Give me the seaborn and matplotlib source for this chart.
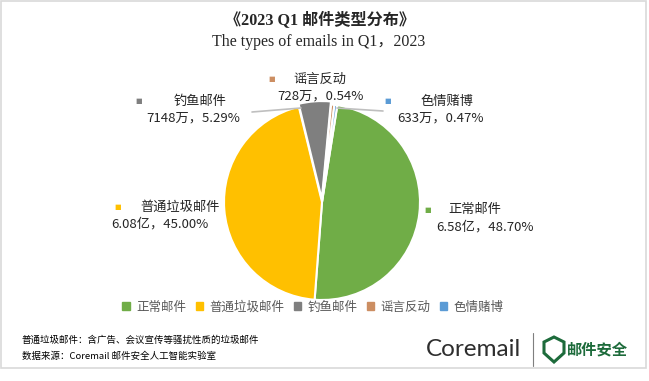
import numpy as np
import matplotlib
matplotlib.use("Agg")
import matplotlib.pyplot as plt
import seaborn as sns
from matplotlib.patches import Patch, Polygon, Rectangle
from matplotlib.lines import Line2D

# chart data
categories = ["正常邮件", "普通垃圾邮件", "钓鱼邮件", "谣言反动", "色情赌博"]
percents = [48.70, 45.00, 5.29, 0.54, 0.47]
counts = ["6.58亿", "6.08亿", "7148万", "728万", "633万"]
colors = ["#70AD47", "#FFC000", "#7F7F7F", "#CC8E62", "#5B9BD5"]

title = "《2023 Q1 邮件类型分布》"
subtitle = "The types of emails in Q1，2023"
notes = ["普通垃圾邮件：含广告、会议宣传等骚扰性质的垃圾邮件",
         "数据来源：Coremail 邮件安全人工智能实验室"]

sns.set_theme(style="white")
plt.rcParams['font.family'] = ['Noto Sans CJK SC', 'DejaVu Sans']

W, H = 649, 381
fig = plt.figure(figsize=(W / 100, H / 100), dpi=100)


def px(x, y):
    # pixel position (from top-left) -> figure fraction
    return x / W, 1 - y / H


# pie axes, centre ~ (322, 201), radius ~ 98 px
cx, cy, r = 322, 202, 98
side = r * 2.2
ax = fig.add_axes([(cx - side / 2) / W, (H - cy - side / 2) / H, side / W, side / H])
explode = [0, 0, 0.03, 0, 0]
ax.pie(percents, colors=colors, startangle=81, counterclock=False,
       explode=explode, wedgeprops=dict(edgecolor="white", linewidth=1.5))
ax.set_xlim(-1.1, 1.1)
ax.set_ylim(-1.1, 1.1)
ax.set_aspect("equal")
ax.axis("off")

# data labels: (marker x, name centre x, value centre x, name y)
label_pos = [(428, 475, 485, 210),
             (118, 180, 160, 207),
             (139, 200, 193, 101),
             (272, 320, 320, 79),
             (388, 447, 441, 101)]
for cat, pct, cnt, col, (mx, nx, vx, ny) in zip(categories, percents, counts, colors, label_pos):
    fig.text(*px(mx, ny), "■", color=col, fontsize=5, ha="center", va="center",
             family=["DejaVu Sans"])
    fig.text(*px(nx, ny), cat, fontsize=9.5, color="#262626", ha="center", va="center")
    fig.text(*px(vx, ny + 17), f"{cnt}，{pct:.2f}%", fontsize=9.5, color="#262626",
             ha="center", va="center")

# leader lines
for (x0, y0), (x1, y1) in [((252, 112), (301, 108)), ((337, 108), (383, 111))]:
    fig.add_artist(Line2D([x0 / W, x1 / W], [1 - y0 / H, 1 - y1 / H],
                          color="#BFBFBF", lw=1.2, transform=fig.transFigure))

# titles
fig.text(*px(320, 21), title, fontsize=11.6, fontweight="bold", ha="center", va="center",
         family=["Liberation Serif", "Noto Sans CJK SC"])
fig.text(*px(319, 42), subtitle, fontsize=11.5, ha="center", va="center",
         family=["Liberation Serif", "Noto Sans CJK SC"])

# legend
handles = [Patch(facecolor=c, edgecolor=c) for c in colors]
fig.legend(handles, categories, loc="center", bbox_to_anchor=px(313, 307), ncol=5,
           frameon=False, fontsize=9, handlelength=0.6, handleheight=0.6,
           handletextpad=0.5, columnspacing=0.75, labelcolor="#595959")

# footnotes
fig.text(*px(22, 340), notes[0], fontsize=6.8, ha="left", va="center", color="black")
fig.text(*px(22, 356), notes[1], fontsize=6.8, ha="left", va="center", color="black")

# logo
fig.text(*px(426, 349), "Coremail", fontsize=17.5, ha="left", va="center", color="#2E2E2E",
         family=["Lato", "DejaVu Sans"])
fig.add_artist(Line2D([533 / W, 533 / W], [1 - 333 / H, 1 - 366 / H], color="#7F7F7F",
                      lw=0.8, transform=fig.transFigure))
shield = [(554, 337), (564, 342), (564, 353), (554, 362), (544, 353), (544, 342)]
fig.add_artist(Polygon([px(x, y) for x, y in shield], closed=True, fill=False,
                       edgecolor="#1D6B3B", lw=2.2, transform=fig.transFigure))
fig.text(*px(567, 349), "邮件安全", fontsize=11, fontweight="bold", ha="left", va="center",
         color="#1D6B3B")

# outer frame
fig.add_artist(Rectangle(px(1, 368), 645 / W, 367 / H, fill=False, edgecolor="#D9D9D9",
                         lw=1.2, transform=fig.transFigure))

fig.savefig("out.png", dpi=100, facecolor="white")
